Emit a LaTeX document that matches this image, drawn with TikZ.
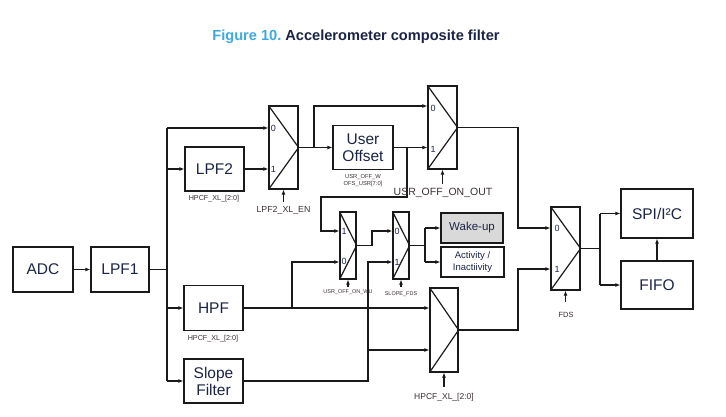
\documentclass[tikz,border=0pt]{standalone}
\usepackage{fontspec}
\setmainfont{Liberation Sans}
\usetikzlibrary{arrows.meta,calc}
\definecolor{navy}{HTML}{1B2444}
\definecolor{figblue}{HTML}{3FA9DD}
\definecolor{lbl}{HTML}{3A3030}
\definecolor{wakegray}{HTML}{D9D9D9}
\definecolor{ln}{HTML}{1A1A1A}
\begin{document}
\begin{tikzpicture}[x=1pt,y=-1pt,
  >={Latex[length=5pt,width=4pt]},
  conn/.style={draw=ln,line width=1.2pt},
  box/.style={draw=ln,line width=1.2pt,rectangle,inner sep=0pt,align=center,text=navy,font=\fontsize{15.5}{17}\selectfont},
  muxbox/.style={draw=ln,line width=1.2pt,rectangle,inner sep=0pt},
  inlbl/.style={text=navy,font=\fontsize{9}{10}\selectfont,inner sep=0pt},
  sublbl/.style={text=lbl,inner sep=0pt,align=center},
]
\useasboundingbox (0,0) rectangle (726,417);

% title
\node[anchor=base,inner sep=0pt,font=\bfseries\fontsize{14.6}{16}\selectfont] (title) at (356,41)
  {\textcolor{figblue}{Figure 10.}~\textcolor{navy}{Accelerometer composite filter}};

% blocks
\node[box,minimum width=60,minimum height=45] (adc) at (43,269.5) {ADC};
\node[box,minimum width=58,minimum height=45] (lpf1) at (120,269.5) {LPF1};
\node[box,minimum width=59,minimum height=44] (lpf2) at (214.5,169) {LPF2};
\node[box,minimum width=59,minimum height=45] (hpf) at (213.5,308) {HPF};
\node[box,minimum width=59,minimum height=44] (slope) at (213.5,381) {Slope\\Filter};
\node[box,minimum width=60,minimum height=44] (uoff) at (363,147.5) {User\\Offset};
\node[box,minimum width=62,minimum height=30,fill=wakegray,font=\fontsize{11.5}{13}\selectfont] (wake) at (472,228) {Wake-up};
\node[box,minimum width=63,minimum height=30,font=\fontsize{9.5}{11.5}\selectfont] (act) at (472.5,262) {Activity /\\Inactiivity};
\node[box,minimum width=72,minimum height=49] (spi) at (657,213.5) {SPI/I²C};
\node[box,minimum width=72,minimum height=48] (fifo) at (657,285) {FIFO};

% multiplexers
\node[muxbox,minimum width=29,minimum height=83] (m1) at (283.5,147.5) {};
\node[muxbox,minimum width=29,minimum height=83] (m2) at (442.5,127.5) {};
\node[muxbox,minimum width=16,minimum height=67] (m3) at (348,245.5) {};
\node[muxbox,minimum width=16,minimum height=67] (m4) at (401,245.5) {};
\node[muxbox,minimum width=28,minimum height=84] (m5) at (444,330) {};
\node[muxbox,minimum width=29,minimum height=83] (m6) at (565.5,248.5) {};
\foreach \m in {m1,m2,m3,m4,m5,m6}
  \draw[conn] (\m.north west) -- (\m.east) -- (\m.south west);

% mux input labels
\node[inlbl] (m1a) at (273.5,128.5) {0};
\node[inlbl] (m1b) at (273.5,169.5) {1};
\node[inlbl] (m2a) at (433,108) {0};
\node[inlbl] (m2b) at (433,149) {1};
\node[inlbl] (m3a) at (344,231.5) {1};
\node[inlbl] (m3b) at (344,261.5) {0};
\node[inlbl] (m4a) at (397,231.5) {0};
\node[inlbl] (m4b) at (397,262) {1};
\node[inlbl] (m6a) at (557,228.5) {0};
\node[inlbl] (m6b) at (557,269.5) {1};

% junction coordinates
\coordinate (bt) at (167,128);
\coordinate (bb) at (167,381);
\coordinate (j1) at (314,147.5);
\coordinate (j2) at (407,147.5);
\coordinate (j3) at (292,308);
\coordinate (j4) at (368,350);
\coordinate (j5) at (518,127.5);
\coordinate (j6) at (425,245.5);
\coordinate (j7) at (600,248.5);

% connectors
\draw[conn,->] (adc) -- (lpf1);
\draw[conn] (lpf1.east) -- (lpf1.east -| bt);
\draw[conn] (bt) -- (bb);
\draw[conn,->] (bt) -- (bt -| m1.west);
\draw[conn,->] (lpf2.west -| bt) -- (lpf2.west);
\draw[conn,->] (hpf.west -| bt) -- (hpf.west);
\draw[conn,->] (bb) -- (slope.west);
\draw[conn,->] (lpf2.east) -- (lpf2.east -| m1.west);

\draw[conn] (m1.east) -- (j1);
\draw[conn,->] (j1) -- (j1 |- 0,106) -- (m2.west |- 0,106);
\draw[conn,->] (j1) -- (uoff.west);
\draw[conn,->] (uoff.east) -- (uoff.east -| m2.west);
\draw[conn,->] (j2) -- (407,197) -- (321,197) -- (321,231) -- (m3.west |- 0,231);

\draw[conn,->] (m2.east) -- (j5) -- (j5 |- 0,228) -- (m6.west |- 0,228);

\draw[conn,->] (hpf.east) -- (hpf.east -| m5.west);
\draw[conn,->] (j3) -- (292,262) -- (m3.west |- 0,262);
\draw[conn,->] (slope.east) -- (368,381) -- (368,262) -- (m4.west |- 0,262);
\draw[conn,->] (j4) -- (j4 -| m5.west);

\draw[conn,->] (m3.east) -- (372,245.5) -- (372,231) -- (m4.west |- 0,231);
\draw[conn] (m4.east) -- (j6);
\draw[conn,->] (j6 |- wake.west) -- (wake.west);
\draw[conn,->] (j6 |- act.west) -- (act.west);
\draw[conn] (j6 |- wake.west) -- (j6 |- act.west);

\draw[conn,->] (m5.east) -- (518,330) -- (518,269) -- (m6.west |- 0,269);

\draw[conn] (m6.east) -- (j7);
\draw[conn] (j7 |- spi.west) -- (j7 |- fifo.west);
\draw[conn,->] (j7 |- spi.west) -- (spi.west);
\draw[conn,->] (j7 |- fifo.west) -- (fifo.west);
\draw[conn,->] (fifo.north) -- (spi.south);

% select lines
\coordinate (s1) at (283.5,202);
\coordinate (s2) at (442.5,184);
\coordinate (s3) at (348,287);
\coordinate (s4) at (401,287);
\coordinate (s5) at (444,387);
\coordinate (s6) at (565.5,302);
\draw[conn,->] (s1) -- (m1.south);
\draw[conn,->] (s2) -- (m2.south);
\draw[conn,->] (s3) -- (m3.south);
\draw[conn,->] (s4) -- (m4.south);
\draw[conn,->] (s5) -- (m5.south);
\draw[conn,->] (s6) -- (m6.south);

% sub labels
\node[sublbl,font=\fontsize{7.2}{8}\selectfont] (l1) at (214,199) {HPCF\_XL\_[2:0]};
\node[sublbl,font=\fontsize{8.8}{10}\selectfont] (l2) at (283.5,210.5) {LPF2\_XL\_EN};
\node[sublbl,font=\fontsize{5.8}{7}\selectfont] (l3) at (363,181) {USR\_OFF\_W\\OFS\_USR[7:0]};
\node[sublbl,font=\fontsize{10.5}{12}\selectfont] (l4) at (443,192.5) {USR\_OFF\_ON\_OUT};
\node[sublbl,font=\fontsize{5.5}{7}\selectfont] (l5) at (348,292.5) {USR\_OFF\_ON\_WU};
\node[sublbl,font=\fontsize{5.5}{7}\selectfont] (l6) at (401,294) {SLOPE\_FDS};
\node[sublbl,font=\fontsize{7.2}{8}\selectfont] (l7) at (213,339) {HPCF\_XL\_[2:0]};
\node[sublbl,font=\fontsize{8.5}{10}\selectfont] (l8) at (444,397) {HPCF\_XL\_[2:0]};
\node[sublbl,font=\fontsize{7.5}{9}\selectfont] (l9) at (566,315) {FDS};
\end{tikzpicture}
\end{document}
